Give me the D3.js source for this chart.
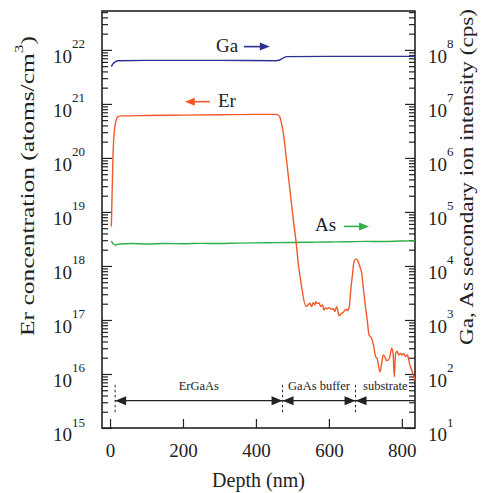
<!DOCTYPE html>
<html>
<head>
<meta charset="utf-8">
<script src="https://d3js.org/d3.v7.min.js"></script>
<style>
  body { margin: 0; padding: 0; background: #fff; }
  svg { display: block; }
  text { font-family: "Liberation Serif", "Times New Roman", serif; fill: #222; }
</style>
</head>
<body>
<script>

// depth profile, nm
var erDepth = [3.6, 8, 14, 22, 33, 100, 200, 300, 400, 457, 465, 470, 475, 484, 493, 502, 510, 516, 525, 537,
  543, 548, 553, 557, 562, 564, 568, 574, 577, 583, 586, 591, 595, 601, 607, 612, 616, 621, 626, 628,
  633, 639, 644, 648, 651, 656, 659, 665, 668, 674, 679, 685, 690, 694, 699, 705, 710, 717, 723, 728,
  732, 740, 744, 749, 753, 758, 763, 767, 772, 776, 779, 783, 787, 792, 796, 801, 805, 810, 815, 822, 830, 836];
// Er concentration, atoms/cm3
var erConc = [5.4e18, 1.05e20, 4.1e20, 5.8e20, 6.0e20, 6.1e20, 6.2e20, 6.3e20, 6.4e20, 6.4e20, 5.8e20, 4.4e20, 2.9e20, 8.9e19, 2.6e19, 7.6e18, 2.8e18, 1.12e18, 4.2e17, 1.78e17,
  1.9e17, 2.04e17, 1.77e17, 2.1e17, 1.9e17, 2.19e17, 2.04e17, 2.04e17, 1.77e17, 1.9e17, 1.53e17, 1.69e17, 1.6e17, 1.69e17, 1.58e17, 1.64e17, 1.43e17, 1.77e17, 1.33e17, 1.19e17,
  1.29e17, 1.37e17, 1.53e17, 1.58e17, 1.49e17, 1.77e17, 3.1e17, 7.3e17, 1.12e18, 1.35e18, 1.26e18, 9.7e17, 7.3e17, 4.1e17, 2.04e17, 1.0e17, 5.3e16, 4.6e16, 3.2e16, 2.1e16,
  1.95e16, 1.1e16, 1.47e16, 2.25e16, 2.1e16, 1.77e16, 1.82e16, 2.1e16, 3.0e16, 2.4e16, 8.9e15, 2.4e16, 2.6e16, 2.25e16, 2.4e16, 2.25e16, 2.4e16, 2.1e16, 2.25e16, 1.47e16, 1.03e16, 7.7e15];

// Ga secondary ion intensity, cps
var gaDepth = [3.6, 8, 14, 22, 100, 300, 455, 465, 475, 485, 600, 836];
var gaCps = [4.9e7, 5.5e7, 6.0e7, 6.3e7, 6.4e7, 6.4e7, 6.3e7, 6.5e7, 7.1e7, 7.5e7, 7.6e7, 7.6e7];

// As secondary ion intensity, cps
var asDepth = [3.6, 8, 16, 25, 60, 100, 150, 200, 250, 300, 350, 400, 450, 500, 550, 600, 650, 700, 750, 800, 836];
var asCps = [2.9e4, 2.6e4, 2.45e4, 2.55e4, 2.6e4, 2.55e4, 2.6e4, 2.58e4, 2.62e4, 2.6e4, 2.65e4, 2.68e4, 2.7e4, 2.72e4, 2.75e4, 2.78e4, 2.8e4, 2.85e4, 2.83e4, 2.9e4, 2.92e4];

var xTicks = [0, 200, 400, 600, 800];
var layerNames = ["ErGaAs", "GaAs buffer", "substrate"];
var layerEdges = [14, 473, 673, 836];

var W = 488, H = 493;
var L = 102, R = 415, T = 11, B = 428;

var svg = d3.select("body").append("svg").attr("width", W).attr("height", H);

var x = d3.scaleLinear().domain([-22, 836]).range([L, R]);
var yL = d3.scaleLog().domain([1e15, 5.25e22]).range([B, T]);
var yR = d3.scaleLog().domain([1e1, 5.25e8]).range([B, T]);

function isMajor(v) { return Math.abs(Math.log10(v) - Math.round(Math.log10(v))) < 1e-6; }

function supLabel(sel) {
  sel.each(function(d) {
    var t = d3.select(this).text(null).attr("dy", null).attr("y", 12.5).attr("font-size", 19);
    t.append("tspan").text("10");
    t.append("tspan").attr("dy", -14.5).attr("font-size", 13).text(Math.round(Math.log10(d)));
  });
}

// left axis
var lTicks = yL.ticks();
svg.append("g").attr("transform", "translate(" + L + ",0)")
  .call(d3.axisLeft(yL).tickValues(lTicks.filter(function(v){ return !isMajor(v); })).tickSize(-6).tickFormat(""))
  .call(function(g){ g.select(".domain").remove(); });
svg.append("g").attr("transform", "translate(" + L + ",0)")
  .call(d3.axisLeft(yL).tickValues(lTicks.filter(isMajor)).tickSize(-10).tickPadding(17))
  .call(function(g){ g.select(".domain").remove(); g.selectAll(".tick text").call(supLabel); });

// right axis
var rTicks = yR.ticks();
svg.append("g").attr("transform", "translate(" + R + ",0)")
  .call(d3.axisRight(yR).tickValues(rTicks.filter(function(v){ return !isMajor(v); })).tickSize(-6).tickFormat(""))
  .call(function(g){ g.select(".domain").remove(); });
svg.append("g").attr("transform", "translate(" + R + ",0)")
  .call(d3.axisRight(yR).tickValues(rTicks.filter(isMajor)).tickSize(-10).tickPadding(13))
  .call(function(g){ g.select(".domain").remove(); g.selectAll(".tick text").call(supLabel); });

// bottom axis
svg.append("g").attr("transform", "translate(0," + B + ")")
  .call(d3.axisBottom(x).tickValues(xTicks).tickSize(-9).tickPadding(16))
  .call(function(g){ g.select(".domain").remove(); g.selectAll(".tick text").attr("font-size", 19); });

svg.selectAll(".tick line").attr("stroke", "#222").attr("stroke-width", 1.2);

// frame
svg.append("rect").attr("x", L).attr("y", T).attr("width", R - L).attr("height", B - T)
  .attr("fill", "none").attr("stroke", "#222").attr("stroke-width", 1.6);

// curves
function drawLine(xs, ys, yScale, color) {
  var pts = xs.map(function(d, i){ return [d, ys[i]]; });
  svg.append("path").datum(pts)
    .attr("fill", "none").attr("stroke", color).attr("stroke-width", 1.4)
    .attr("d", d3.line().x(function(d){ return x(d[0]); }).y(function(d){ return yScale(d[1]); }).curve(d3.curveMonotoneX));
}
drawLine(asDepth, asCps, yR, "#2fb04a");
drawLine(gaDepth, gaCps, yR, "#2e3192");
drawLine(erDepth, erConc, yL, "#f2592a");

// arrow helper (from x0 to x1, head at x1)
function arrow(x0, x1, yy, color, len, half) {
  var dir = x1 > x0 ? 1 : -1;
  svg.append("line").attr("x1", x0).attr("x2", x1 - dir * len * 0.6).attr("y1", yy).attr("y2", yy)
    .attr("stroke", color).attr("stroke-width", 1.6);
  svg.append("path").attr("fill", color)
    .attr("d", "M" + x1 + "," + yy + "L" + (x1 - dir * len) + "," + (yy - half) + "L" + (x1 - dir * len) + "," + (yy + half) + "Z");
}

// series labels
svg.append("text").attr("x", x(351)).attr("y", yR(9.2e7)).attr("text-anchor", "end").attr("font-size", 19).text("Ga");
arrow(x(367), x(438), yR(1.15e8), "#2e3192", 10, 4);
svg.append("text").attr("x", x(296)).attr("y", yL(8.8e20)).attr("font-size", 19).text("Er");
arrow(x(274), x(205), yL(1.1e21), "#f2592a", 10, 4);
svg.append("text").attr("x", x(562)).attr("y", yR(4.5e4)).attr("font-size", 19).text("As");
arrow(x(641), x(710), yR(5.4e4), "#2fb04a", 10, 4);

// layers
var yArrow = yL(3.2e15);
layerEdges.slice(0, 3).forEach(function(d) {
  svg.append("line").attr("x1", x(d)).attr("x2", x(d)).attr("y1", yL(6.3e15)).attr("y2", yL(1.9e15))
    .attr("stroke", "#222").attr("stroke-width", 1).attr("stroke-dasharray", "2.5,2.5");
});
layerNames.forEach(function(n, i) {
  var a = layerEdges[i], b = layerEdges[i + 1];
  svg.append("line").attr("x1", x(a)).attr("x2", x(b)).attr("y1", yArrow).attr("y2", yArrow)
    .attr("stroke", "#222").attr("stroke-width", 1.2);
  svg.append("path").attr("fill", "#222")
    .attr("d", "M" + x(a) + "," + yArrow + "l11,-4.5l0,9Z");
  if (i < 2) {
    svg.append("path").attr("fill", "#222")
      .attr("d", "M" + x(b) + "," + yArrow + "l-11,-4.5l0,9Z");
  }
  svg.append("text").attr("x", (x(a) + x(b)) / 2).attr("y", yL(5.0e15)).attr("text-anchor", "middle")
    .attr("font-size", 12.5).text(n);
});

// axis titles
svg.append("text").attr("x", (L + R) / 2).attr("y", 487).attr("text-anchor", "middle").attr("font-size", 20).text("Depth (nm)");

var lt = svg.append("text").attr("transform", "translate(34,186) rotate(-90)")
  .attr("text-anchor", "middle").attr("font-size", 19)
  .attr("textLength", 300).attr("lengthAdjust", "spacingAndGlyphs");
lt.append("tspan").text("Er concentration (atoms/cm");
lt.append("tspan").attr("dy", -11).attr("font-size", 13).text("3");
lt.append("tspan").attr("dy", 11).text(")");

svg.append("text").attr("transform", "translate(473,177) rotate(-90)")
  .attr("text-anchor", "middle").attr("font-size", 19)
  .attr("textLength", 336).attr("lengthAdjust", "spacingAndGlyphs")
  .text("Ga, As secondary ion intensity (cps)");

</script>
</body>
</html>
